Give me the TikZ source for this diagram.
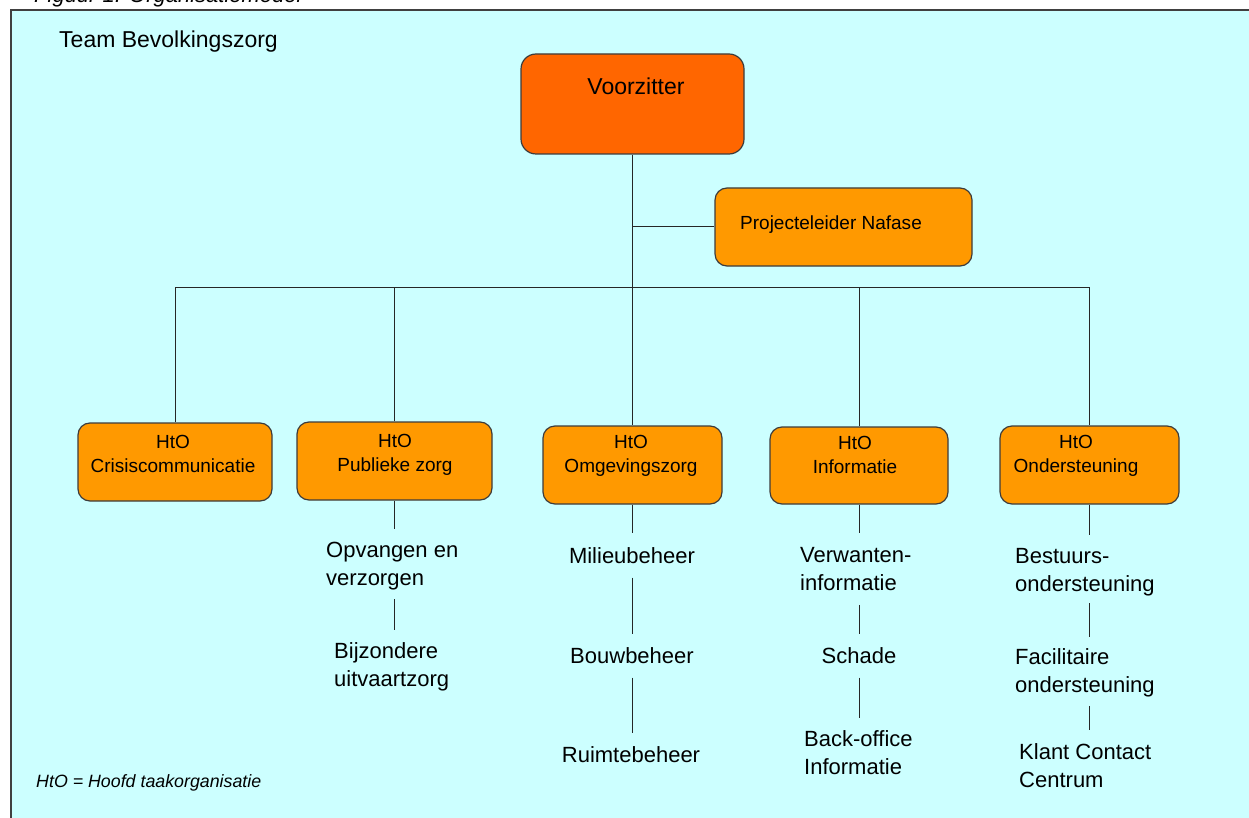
\documentclass[tikz,border=0pt]{standalone}
\usepackage{fontspec}
\setmainfont{Liberation Sans}
\definecolor{bgcyan}{RGB}{204,255,255}
\definecolor{orA}{RGB}{255,102,0}
\definecolor{orB}{RGB}{255,153,0}
\definecolor{edge}{RGB}{60,60,60}
\begin{document}
\begin{tikzpicture}[x=1pt,y=-1pt,
  box/.style={draw=edge, line width=1.2pt, rounded corners=12pt, fill=orB, inner sep=0, minimum width=#1},
  boxtxt/.style={anchor=north, align=center, inner sep=0, font=\fontsize{19}{24}\selectfont},
  bigc/.style={anchor=north, align=center, inner sep=0, font=\fontsize{22}{28}\selectfont},
  bigl/.style={anchor=north west, align=left, inner sep=0, font=\fontsize{22}{28}\selectfont},
  wire/.style={draw=black!85, line width=1pt}]
\useasboundingbox (0,0) rectangle (1249,818);
\clip (0,0) rectangle (1249,818);
% frame
\fill[bgcyan] (11,10) rectangle (1252,821);
\draw[line width=2pt, black!75] (11,821) -- (11,10) -- (1252,10);
\node[anchor=base west, inner sep=0, font=\itshape\fontsize{22}{26}\selectfont] (title) at (34,3) {Figuur 1: Organisatiemodel};
\node[anchor=base west, inner sep=0, font=\fontsize{23}{26}\selectfont] (team) at (59,48) {Team Bevolkingszorg};
\node[anchor=base west, inner sep=0, font=\itshape\fontsize{17.8}{20}\selectfont] (legend) at (36,787) {HtO = Hoofd taakorganisatie};

% boxes
\node[box=223pt, minimum height=100pt, fill=orA, rounded corners=15pt] (voor) at (632.5,104) {};
\node[anchor=base, inner sep=0, font=\fontsize{23}{28}\selectfont] (voorT) at (636,95) {Voorzitter};
\node[box=257pt, minimum height=78pt] (proj) at (843.5,227) {};
\node[anchor=base west, inner sep=0, font=\fontsize{19}{24}\selectfont] (projT) at (740,230) {Projecteleider Nafase};

\node[box=194pt, minimum height=78pt] (crisis) at (175,462) {};
\node[box=195pt, minimum height=78pt] (pub) at (394.5,461) {};
\node[box=179pt, minimum height=78pt] (omg) at (632.5,465) {};
\node[box=178pt, minimum height=77pt] (info) at (859,465.5) {};
\node[box=179pt, minimum height=78pt] (ond) at (1089.5,465) {};

\node[boxtxt] (crisisT) at (173,435.4) {HtO\\Crisiscommunicatie};
\node[boxtxt] (pubT) at (395,434.4) {HtO\\Publieke zorg};
\node[boxtxt] (omgT) at (631,435.4) {HtO\\Omgevingszorg};
\node[boxtxt] (infoT) at (855,436.4) {HtO\\Informatie};
\node[boxtxt] (ondT) at (1076,435.4) {HtO\\Ondersteuning};

% sub texts
\node[bigl] (opv) at (326,542) {Opvangen en\\verzorgen};
\node[bigl] (bij) at (334,642) {Bijzondere\\uitvaartzorg};
\node[bigc] (mil) at (632,547) {Milieubeheer};
\node[bigc] (bouw) at (632,647) {Bouwbeheer};
\node[bigc] (ruim) at (631,746) {Ruimtebeheer};
\node[bigl] (verw) at (800,547) {Verwanten-\\informatie};
\node[bigc] (schade) at (859,647) {Schade};
\node[bigl] (back) at (804,730) {Back-office\\Informatie};
\node[bigl] (best) at (1015,548) {Bestuurs-\\ondersteuning};
\node[bigl] (fac) at (1015,648) {Facilitaire\\ondersteuning};
\node[bigl] (klant) at (1019,743) {Klant Contact\\Centrum};

% connectors
\coordinate (bus) at (632,287);
\draw[wire] (voor.south) -- (omg.north);
\draw[wire] (proj.west) -- (proj.west -| voor.south);
\draw[wire] (crisis.north) |- (ond.north |- bus) -- (ond.north);
\draw[wire] (pub.north) -- (pub.north |- bus);
\draw[wire] (info.north) -- (info.north |- bus);

\draw[wire, shorten >=13pt] (pub.south) -- (pub.south |- opv.north);
\draw[wire, shorten <=9pt, shorten >=12pt] (pub.south |- opv.south) -- (pub.south |- bij.north);

\draw[wire, shorten >=14pt] (omg.south) -- (omg.south |- mil.north);
\draw[wire, shorten <=14pt, shorten >=13pt] (omg.south |- mil.south) -- (omg.south |- bouw.north);
\draw[wire, shorten <=14pt, shorten >=13pt] (omg.south |- bouw.south) -- (omg.south |- ruim.north);

\draw[wire, shorten >=14pt] (info.south) -- (info.south |- verw.north);
\draw[wire, shorten <=14pt, shorten >=13pt] (info.south |- verw.south) -- (info.south |- schade.north);
\draw[wire, shorten <=14pt, shorten >=12pt] (info.south |- schade.south) -- (info.south |- back.north);

\draw[wire, shorten >=13pt] (ond.south) -- (ond.south |- best.north);
\draw[wire, shorten <=7pt, shorten >=11pt] (ond.south |- best.south) -- (ond.south |- fac.north);
\draw[wire, shorten <=9pt, shorten >=13pt] (ond.south |- fac.south) -- (ond.south |- klant.north);
\end{tikzpicture}
\end{document}
